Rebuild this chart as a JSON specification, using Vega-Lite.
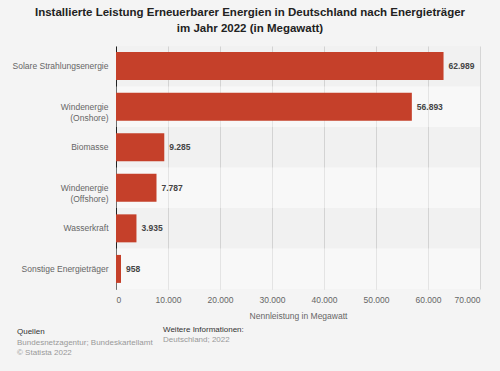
{
  "$schema": "https://vega.github.io/schema/vega-lite/v6.json",
  "width": 364,
  "height": 243,
  "autosize": {"type": "none"},
  "padding": {"left": 116, "top": 46, "right": 20, "bottom": 82},
  "background": "#f4f4f4",
  "title": {
    "text": ["Installierte Leistung Erneuerbarer Energien in Deutschland nach Energieträger", "im Jahr 2022 (in Megawatt)"],
    "anchor": "middle",
    "dx": -48,
    "offset": 12,
    "fontSize": 11.5,
    "lineHeight": 16,
    "font": "Liberation Sans",
    "fontWeight": "bold",
    "color": "#222222"
  },
  "config": {
    "view": {"stroke": null},
    "locale": {"number": {"decimal": ",", "thousands": ".", "grouping": [3], "currency": ["", " €"]}},
    "font": "Liberation Sans"
  },
  "data": {
    "values": [
      {"Energietraeger": "Solare Strahlungsenergie", "Leistung": 62989, "Zeile": 1},
      {"Energietraeger": "Windenergie (Onshore)", "Leistung": 56893, "Zeile": 2},
      {"Energietraeger": "Biomasse", "Leistung": 9285, "Zeile": 3},
      {"Energietraeger": "Windenergie (Offshore)", "Leistung": 7787, "Zeile": 4},
      {"Energietraeger": "Wasserkraft", "Leistung": 3935, "Zeile": 5},
      {"Energietraeger": "Sonstige Energieträger", "Leistung": 958, "Zeile": 6}
    ]
  },
  "resolve": {"scale": {"y": "independent"}},
  "layer": [
    {
      "mark": {"type": "rect", "x": 0, "x2": 364},
      "encoding": {
        "y": {"field": "Energietraeger", "type": "nominal", "sort": null,
              "scale": {"paddingInner": 0, "paddingOuter": 0}, "axis": null},
        "color": {
          "condition": {"test": "datum.Zeile % 2 == 1", "value": "#000000"},
          "value": "#ffffff"
        },
        "opacity": {
          "condition": {"test": "datum.Zeile % 2 == 1", "value": 0.012},
          "value": 0.35
        }
      }
    },
    {
      "layer": [
        {
          "mark": {"type": "bar", "color": "#c5402a"},
          "encoding": {
            "x": {
              "field": "Leistung",
              "type": "quantitative",
              "scale": {"domain": [0, 70000], "nice": false},
              "axis": {
                "title": "Nennleistung in Megawatt",
                "titleColor": "#666666",
                "titleFontSize": 8.5,
                "titleFontWeight": "normal",
                "titlePadding": 8,
                "values": [0, 10000, 20000, 30000, 40000, 50000, 60000, 70000],
                "format": ",d",
                "labelColor": "#666666",
                "labelFontSize": 8.5,
                "labelFlush": true,
                "labelPadding": 6,
                "domain": false,
                "ticks": false,
                "grid": true,
                "gridColor": "#d6d6d6",
                "gridWidth": 1
              }
            },
            "y": {
              "field": "Energietraeger",
              "type": "nominal",
              "sort": null,
              "scale": {"paddingInner": 0.31, "paddingOuter": 0.15},
              "axis": {
                "title": null,
                "ticks": false,
                "domain": true,
                "domainColor": "#222222",
                "domainWidth": 1,
                "labelColor": "#666666",
                "labelFontSize": 8.5,
                "labelPadding": 8,
                "labelLineHeight": 11,
                "labelExpr": "datum.label == 'Windenergie (Onshore)' ? ['Windenergie', '(Onshore)'] : datum.label == 'Windenergie (Offshore)' ? ['Windenergie', '(Offshore)'] : datum.label"
              }
            }
          }
        },
        {
          "mark": {"type": "text", "align": "left", "dx": 5, "fontSize": 8.5, "fontWeight": "bold", "color": "#444444"},
          "encoding": {
            "x": {"field": "Leistung", "type": "quantitative"},
            "y": {"field": "Energietraeger", "type": "nominal", "sort": null},
            "text": {"field": "Leistung", "type": "quantitative", "format": ",d"}
          }
        }
      ]
    },
    {
      "data": {"values": [{"t": "Quellen"}]},
      "mark": {"type": "text", "align": "left", "baseline": "middle", "fontSize": 8, "color": "#333333", "x": -99, "y": 286},
      "encoding": {"text": {"field": "t"}}
    },
    {
      "data": {"values": [{"t": "Bundesnetzagentur; Bundeskartellamt"}]},
      "mark": {"type": "text", "align": "left", "baseline": "middle", "fontSize": 8, "color": "#999999", "x": -99, "y": 297},
      "encoding": {"text": {"field": "t"}}
    },
    {
      "data": {"values": [{"t": "© Statista 2022"}]},
      "mark": {"type": "text", "align": "left", "baseline": "middle", "fontSize": 8, "color": "#999999", "x": -99, "y": 307},
      "encoding": {"text": {"field": "t"}}
    },
    {
      "data": {"values": [{"t": "Weitere Informationen:"}]},
      "mark": {"type": "text", "align": "left", "baseline": "middle", "fontSize": 8, "color": "#333333", "x": 47, "y": 284},
      "encoding": {"text": {"field": "t"}}
    },
    {
      "data": {"values": [{"t": "Deutschland; 2022"}]},
      "mark": {"type": "text", "align": "left", "baseline": "middle", "fontSize": 8, "color": "#999999", "x": 47, "y": 294},
      "encoding": {"text": {"field": "t"}}
    }
  ]
}
